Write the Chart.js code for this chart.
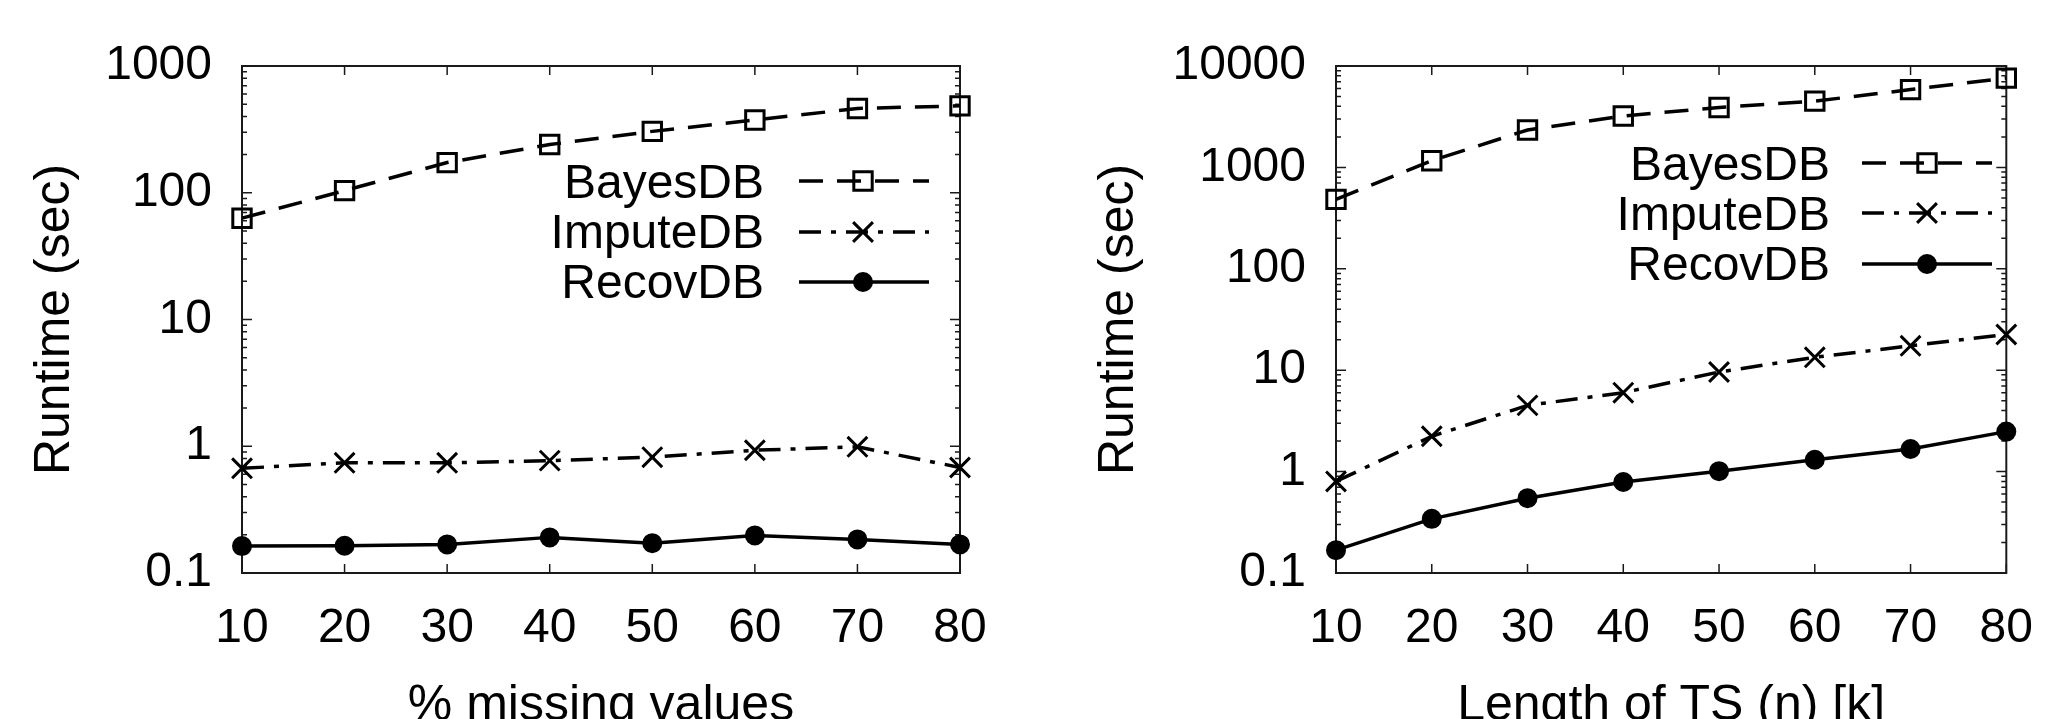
<!DOCTYPE html>
<html><head><meta charset="utf-8">
<script src="https://cdn.jsdelivr.net/npm/chart.js@4.4.1/dist/chart.umd.min.js"></script>
<style>
html,body{margin:0;padding:0;background:#fff;width:2060px;height:719px;overflow:hidden;}
.panel{position:absolute;top:0;width:1030px;height:760px;}
</style></head><body>
<div class="panel" style="left:0"><canvas id="c1" width="1030" height="760"></canvas></div>
<div class="panel" style="left:1030px"><canvas id="c2" width="1030" height="760"></canvas></div>
<script>
// ---- data ----
const xLabels = ['10','20','30','40','50','60','70','80'];
const seriesNames = ['BayesDB','ImputeDB','RecovDB'];
// left panel: % missing values
const missBayes  = [63, 104, 173, 240, 305, 375, 462, 485];
const missImpute = [0.67, 0.74, 0.74, 0.77, 0.82, 0.93, 0.99, 0.68];
const missRecov  = [0.163, 0.164, 0.168, 0.191, 0.172, 0.198, 0.184, 0.168];
// right panel: length of TS
const lenBayes  = [484, 1164, 2340, 3210, 3900, 4500, 5850, 7600];
const lenImpute = [0.80, 2.23, 4.5, 6.0, 9.6, 13.4, 17.4, 22.5];
const lenRecov  = [0.168, 0.342, 0.547, 0.79, 1.01, 1.31, 1.67, 2.48];
// tick labels / titles
const missYTicks = [0.1, 1, 10, 100, 1000];
const lenYTicks  = [0.1, 1, 10, 100, 1000, 10000];
const yTitle = 'Runtime (sec)';
const missXTitle = '% missing values';
const lenXTitle = 'Length of TS (n) [k]';

const FONT = '"Liberation Sans", Arial, Helvetica, sans-serif';
Chart.defaults.font.family = FONT;
Chart.defaults.color = '#000';

const styles = [
  {borderDash:[24,14], pointStyle:'rect', pointRadius:13, fill:'rgba(0,0,0,0)'},
  {borderDash:[22,10,5,10], pointStyle:'crossRot', pointRadius:14, fill:'rgba(0,0,0,0)'},
  {borderDash:[], pointStyle:'circle', pointRadius:8.5, fill:'#000'}
];

function makeDatasets(arrs){
  return arrs.map((d,i)=>({
    label: seriesNames[i], data: d,
    borderColor:'#000', borderWidth:3.5, borderDash: styles[i].borderDash,
    pointStyle: styles[i].pointStyle, pointRadius: styles[i].pointRadius,
    pointBorderWidth:3, pointBorderColor:'#000', pointBackgroundColor: styles[i].fill,
    tension:0, clip:false, fill:false
  }));
}

function drawMarker(ctx, style, r, x, y){
  ctx.beginPath();
  if (style==='rect'){ const s=r*Math.SQRT1_2; ctx.rect(x-s,y-s,2*s,2*s); ctx.stroke(); }
  else if (style==='crossRot'){ const s=r*Math.SQRT1_2; ctx.moveTo(x-s,y-s); ctx.lineTo(x+s,y+s); ctx.moveTo(x-s,y+s); ctx.lineTo(x+s,y-s); ctx.stroke(); }
  else { ctx.arc(x,y,r,0,Math.PI*2); ctx.fill(); ctx.stroke(); }
}

const framePlugin = {
  id:'gnuFrame',
  beforeDatasetsDraw(chart){
    const {ctx, chartArea:a} = chart; const x=chart.scales.x, y=chart.scales.y;
    ctx.save();
    ctx.strokeStyle='#1a1a1a'; ctx.setLineDash([]);
    ctx.lineWidth=2;
    ctx.strokeRect(a.left, a.top, a.right-a.left, a.bottom-a.top);
    ctx.lineWidth=1.5;
    ctx.beginPath();
    x.ticks.forEach((t,i)=>{ const px=x.getPixelForTick(i);
      ctx.moveTo(px,a.bottom); ctx.lineTo(px,a.bottom-9);
      ctx.moveTo(px,a.top); ctx.lineTo(px,a.top+9); });
    y.ticks.forEach(t=>{ const py=y.getPixelForValue(t.value);
      ctx.moveTo(a.left,py); ctx.lineTo(a.left+10,py);
      ctx.moveTo(a.right,py); ctx.lineTo(a.right-10,py); });
    const e0=Math.round(Math.log10(y.min)), e1=Math.round(Math.log10(y.max));
    for(let e=e0;e<e1;e++){ for(let m=2;m<=9;m++){ const v=m*Math.pow(10,e); const py=y.getPixelForValue(v);
      ctx.moveTo(a.left,py); ctx.lineTo(a.left+5,py);
      ctx.moveTo(a.right,py); ctx.lineTo(a.right-5,py); } }
    ctx.stroke();
    ctx.restore();
  }
};

const legendPlugin = {
  id:'gnuLegend',
  afterDatasetsDraw(chart, args, o){
    const ctx=chart.ctx;
    chart.data.datasets.forEach((ds,i)=>{
      const y=o.rows[i];
      ctx.save();
      ctx.font='48px '+FONT; ctx.fillStyle='#000'; ctx.textAlign='right'; ctx.textBaseline='alphabetic';
      ctx.fillText(ds.label, o.textRight, o.baselines[i]);
      ctx.strokeStyle=ds.borderColor; ctx.lineWidth=ds.borderWidth; ctx.setLineDash(ds.borderDash||[]);
      ctx.beginPath(); ctx.moveTo(o.x1,y); ctx.lineTo(o.x2,y); ctx.stroke();
      ctx.setLineDash([]);
      ctx.strokeStyle=ds.pointBorderColor; ctx.fillStyle=ds.pointBackgroundColor; ctx.lineWidth=ds.pointBorderWidth;
      drawMarker(ctx, ds.pointStyle, ds.pointRadius, o.mx, y);
      ctx.restore();
    });
  }
};

function makeChart(id, arrs, yTicks, xTitle, cfg){
  return new Chart(document.getElementById(id), {
    type:'line',
    data:{labels:xLabels, datasets:makeDatasets(arrs)},
    plugins:[framePlugin, legendPlugin],
    options:{
      responsive:false, animation:false, devicePixelRatio:1,
      layout:{padding:{left:0, right:cfg.padRight, top:66, bottom:0}},
      plugins:{legend:{display:false}, tooltip:{enabled:false}, gnuLegend:cfg.legend},
      scales:{
        x:{type:'category', offset:false,
           grid:{display:false, drawTicks:false}, border:{display:false},
           ticks:{font:{size:48}, color:'#000', padding:27, maxRotation:0, autoSkip:false},
           title:{display:true, text:xTitle, font:{size:50}, color:'#000', padding:{top:0,bottom:24}},
           afterFit:s=>{ s.height = 760-573; }},
        y:{type:'logarithmic', min:yTicks[0], max:yTicks[yTicks.length-1],
           grid:{display:false, drawTicks:false}, border:{display:false},
           afterBuildTicks:s=>{ s.ticks = yTicks.map(v=>({value:v, major:true})); },
           ticks:{font:{size:48}, color:'#000', padding:30, callback:v=>String(v)},
           title:{display:true, text:yTitle, font:{size:50}, color:'#000', padding:{top:cfg.yTitlePad,bottom:0}},
           afterFit:s=>{ s.width = cfg.yWidth; }}
      }
    }
  });
}

makeChart('c1', [missBayes, missImpute, missRecov], missYTicks, missXTitle,
  {padRight:70, yWidth:242, yTitlePad:25,
   legend:{textRight:764, x1:799, x2:929, mx:863, rows:[181,232,282], baselines:[198,248,298]}});
makeChart('c2', [lenBayes, lenImpute, lenRecov], lenYTicks, lenXTitle,
  {padRight:38, yWidth:306, yTitlePad:59,
   legend:{textRight:800, x1:832, x2:962, mx:897, rows:[163,213,264], baselines:[180,230,280]}});
</script>
</body></html>
